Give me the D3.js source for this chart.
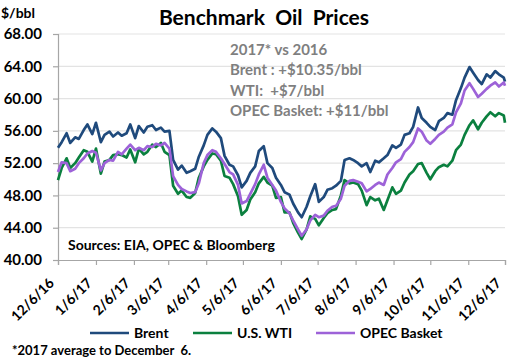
<!DOCTYPE html>
<html>
<head>
<meta charset="utf-8">
<script src="https://cdn.jsdelivr.net/npm/d3@7"></script>
<style>
  body { margin: 0; background: #fff; }
  svg { display: block; font-family: Lato, "Open Sans", sans-serif; font-weight: bold; }
</style>
</head>
<body>
<script>
// sample dates (Tue / Fri, plus the last day)
var dates = [
  "2016-12-06","2016-12-09","2016-12-13","2016-12-16","2016-12-20","2016-12-23","2016-12-27","2016-12-30",
  "2017-01-03","2017-01-06","2017-01-10","2017-01-13","2017-01-17","2017-01-20","2017-01-24","2017-01-27","2017-01-31",
  "2017-02-03","2017-02-07","2017-02-10","2017-02-14","2017-02-17","2017-02-21","2017-02-24","2017-02-28",
  "2017-03-03","2017-03-07","2017-03-10","2017-03-14","2017-03-17","2017-03-21","2017-03-24","2017-03-28","2017-03-31",
  "2017-04-04","2017-04-07","2017-04-11","2017-04-14","2017-04-18","2017-04-21","2017-04-25","2017-04-28",
  "2017-05-02","2017-05-05","2017-05-09","2017-05-12","2017-05-16","2017-05-19","2017-05-23","2017-05-26","2017-05-30",
  "2017-06-02","2017-06-06","2017-06-09","2017-06-13","2017-06-16","2017-06-20","2017-06-23","2017-06-27","2017-06-30",
  "2017-07-04","2017-07-07","2017-07-11","2017-07-14","2017-07-18","2017-07-21","2017-07-25","2017-07-28",
  "2017-08-01","2017-08-04","2017-08-08","2017-08-11","2017-08-15","2017-08-18","2017-08-22","2017-08-25","2017-08-29",
  "2017-09-01","2017-09-05","2017-09-08","2017-09-12","2017-09-15","2017-09-19","2017-09-22","2017-09-26","2017-09-29",
  "2017-10-03","2017-10-06","2017-10-10","2017-10-13","2017-10-17","2017-10-20","2017-10-24","2017-10-27","2017-10-31",
  "2017-11-03","2017-11-07","2017-11-10","2017-11-14","2017-11-17","2017-11-21","2017-11-24","2017-11-28",
  "2017-12-01","2017-12-05","2017-12-06"
];

var brent = [
  53.9,54.6,55.7,54.5,55.2,55.0,56.1,56.8,
  55.6,57.0,54.6,55.5,55.9,55.3,55.8,55.4,55.7,
  56.8,55.1,56.6,55.8,56.5,56.7,56.1,56.4,
  55.9,56.0,52.4,51.2,51.7,50.8,51.0,51.3,52.8,
  54.2,55.5,56.3,55.9,55.1,52.9,51.8,51.6,
  50.5,49.0,49.8,50.8,51.6,53.5,54.1,52.0,51.4,
  50.2,49.3,48.4,48.1,47.0,45.9,45.3,46.6,47.9,
  49.4,47.2,47.8,48.7,48.9,49.2,49.8,52.4,
  52.6,52.4,52.0,51.6,52.0,50.9,52.3,52.1,52.6,
  53.0,54.2,53.9,54.3,55.5,55.7,56.5,58.9,57.6,
  57.0,56.5,56.1,57.2,57.6,58.2,58.0,59.8,61.3,
  62.6,63.9,63.2,62.3,61.8,63.0,62.6,63.4,
  63.0,62.6,62.1
];

var wti = [
  49.9,51.4,52.6,51.4,52.0,52.7,53.6,53.4,
  52.2,53.8,50.7,52.2,52.4,53.0,53.1,53.0,52.7,
  53.7,52.1,53.8,53.1,53.4,54.3,54.0,54.5,
  53.4,53.0,49.2,48.2,48.6,47.8,47.7,48.3,50.2,
  51.6,52.4,53.2,53.1,52.3,50.4,50.2,49.4,
  47.9,45.6,46.2,47.5,48.4,49.5,50.3,49.6,49.2,
  47.7,47.8,45.9,45.9,44.6,43.4,42.6,43.8,45.4,
  45.1,44.3,45.2,45.8,46.2,46.3,48.0,49.9,
  49.5,49.6,49.4,48.6,46.8,47.8,47.4,47.6,46.2,
  47.4,49.0,48.2,48.6,49.6,50.6,51.0,51.9,52.0,
  50.8,50.0,51.0,51.5,51.8,51.6,52.3,53.6,54.3,
  55.5,56.7,57.3,56.2,57.0,57.8,58.3,57.8,
  58.2,57.9,57.0
];

var opec = [
  50.9,52.1,52.0,51.0,51.3,52.0,52.6,53.2,
  53.5,53.3,51.1,52.0,52.4,52.3,53.4,53.1,53.8,
  54.3,53.6,53.9,53.6,54.1,54.0,54.4,54.2,
  54.5,53.8,50.4,49.3,48.8,48.5,48.3,48.4,49.5,
  52.0,53.0,53.6,53.4,52.6,51.9,50.9,50.6,
  49.3,47.0,47.3,48.2,49.4,50.6,51.8,50.2,49.3,
  48.6,47.2,46.4,45.8,44.9,43.8,43.0,43.8,44.9,
  45.6,45.3,45.5,46.1,46.6,46.7,47.6,49.2,
  49.8,49.9,49.7,49.5,48.5,48.8,49.3,49.6,49.3,
  50.6,51.4,52.1,52.5,53.4,54.0,54.6,56.3,55.9,
  54.8,54.4,55.0,55.5,55.9,56.4,56.8,58.3,59.4,
  61.0,61.9,61.2,60.2,60.6,61.2,61.6,62.0,
  61.5,62.0,61.6
];

var seriesNames = ["Brent", "U.S. WTI", "OPEC Basket"];
var seriesColors = ["#1f4a7c", "#0b803f", "#9d62d8"];

var monthTicks = ["12/6/16","1/6/17","2/6/17","3/6/17","4/6/17","5/6/17","6/6/17",
                  "7/6/17","8/6/17","9/6/17","10/6/17","11/6/17","12/6/17"];
var yTicks = [40, 44, 48, 52, 56, 60, 64, 68];

var notes = ["2017* vs 2016", "Brent : +$10.35/bbl", "WTI:  +$7/bbl", "OPEC Basket: +$11/bbl"];

var W = 532, H = 364;
var parseDay = d3.timeParse("%Y-%m-%d");
var parseTick = d3.timeParse("%m/%d/%y");

var svg = d3.select("body").append("svg")
  .attr("width", W)
  .attr("height", H);

svg.append("rect").attr("width", W).attr("height", H).attr("fill", "#fff");

var x = d3.scaleTime()
  .domain([parseTick(monthTicks[0]), parseTick(monthTicks[monthTicks.length - 1])])
  .range([58, 505]);
var y = d3.scaleLinear().domain([40, 68]).range([260, 34]);

// gridlines
svg.append("g").selectAll("line")
  .data(yTicks.slice(1))
  .enter().append("line")
  .attr("x1", x.range()[0]).attr("x2", x.range()[1])
  .attr("y1", function(d) { return y(d); })
  .attr("y2", function(d) { return y(d); })
  .attr("stroke", "#e3e3e3")
  .attr("stroke-width", 1.2);

// y axis
var yAxis = svg.append("g")
  .attr("transform", "translate(58,0)")
  .call(d3.axisLeft(y).tickValues(yTicks).tickFormat(d3.format(".2f")).tickSize(5).tickPadding(11));
yAxis.selectAll("text").attr("font-size", 15).attr("fill", "#000")
  .style("font-family", "Lato, sans-serif").style("font-weight", "bold");

// x axis
var xAxis = svg.append("g")
  .attr("transform", "translate(0,260)")
  .call(d3.axisBottom(x).tickValues(monthTicks.map(parseTick)).tickSize(5).tickFormat(""));
xAxis.selectAll("text").remove();

svg.selectAll(".domain, .tick line").attr("stroke", "#a6a6a6").attr("stroke-width", 1.2);

svg.append("g").selectAll("text")
  .data(monthTicks)
  .enter().append("text")
  .attr("transform", function(d) { return "translate(" + (x(parseTick(d)) - 3) + ",284) rotate(-45)"; })
  .attr("text-anchor", "end")
  .attr("font-size", 14)
  .text(function(d) { return d; });

// lines
var allSeries = [brent, wti, opec];
var line = d3.line()
  .x(function(d, i) { return x(parseDay(dates[i])); })
  .y(function(d) { return y(d); });

svg.append("g").selectAll("path")
  .data(allSeries)
  .enter().append("path")
  .attr("d", line)
  .attr("fill", "none")
  .attr("stroke", function(d, i) { return seriesColors[i]; })
  .attr("stroke-width", 2.7)
  .attr("stroke-linejoin", "round");

// title and labels
svg.append("text")
  .attr("x", 264).attr("y", 25)
  .attr("text-anchor", "middle")
  .attr("font-size", 21)
  .style("white-space", "pre")
  .text("Benchmark  Oil  Prices");

svg.append("text").attr("x", 1).attr("y", 18).attr("font-size", 14).text("$/bbl");

svg.append("g").selectAll("text")
  .data(notes)
  .enter().append("text")
  .attr("x", 230)
  .attr("y", function(d, i) { return 55 + i * 20.3; })
  .attr("font-size", 15)
  .attr("fill", "#7f7f7f")
  .style("white-space", "pre")
  .text(function(d) { return d; });

svg.append("text").attr("x", 68).attr("y", 250).attr("font-size", 14)
  .text("Sources: EIA, OPEC & Bloomberg");

// legend
var legendX = [90, 193, 316];
var legend = svg.append("g").selectAll("g")
  .data(seriesNames)
  .enter().append("g")
  .attr("transform", function(d, i) { return "translate(" + legendX[i] + ",333)"; });
legend.append("line")
  .attr("x1", 0).attr("x2", 39)
  .attr("stroke", function(d, i) { return seriesColors[i]; })
  .attr("stroke-width", 2.7);
legend.append("text")
  .attr("x", 44).attr("y", 5)
  .attr("font-size", 14)
  .text(function(d) { return d; });

svg.append("text").attr("x", 12).attr("y", 355).attr("font-size", 13)
  .style("white-space", "pre")
  .text("*2017 average to December  6.");
</script>
</body>
</html>
